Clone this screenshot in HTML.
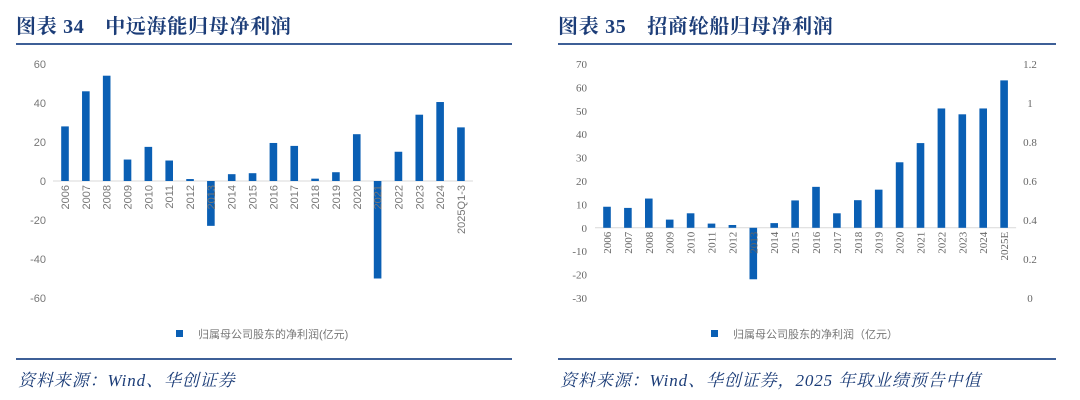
<!DOCTYPE html>
<html><head><meta charset="utf-8"><style>
body{margin:0;background:#fff;}
svg{display:block;font-family:"Liberation Sans","Noto Sans CJK SC",sans-serif;}
.t{font-family:"Liberation Serif","Noto Serif CJK SC",serif;font-weight:bold;fill:#1c3d78;font-size:20px;letter-spacing:0.7px;}
.f{font-family:"Liberation Serif","Noto Serif CJK SC",serif;font-style:italic;fill:#1c3d78;font-size:17px;letter-spacing:0.9px;}
.ax{fill:#777;font-size:11px;}
.axs{fill:#666;font-size:11px;font-family:"Liberation Serif",serif;}
</style></head><body>
<svg id="s" width="1080" height="400">
<text class="t" x="16" y="33">图表 34　中远海能归母净利润</text>
<rect x="16" y="43" width="496" height="2" fill="#3d5f97"/>
<text class="t" x="558" y="33">图表 35　招商轮船归母净利润</text>
<rect x="558" y="43" width="498" height="2" fill="#3d5f97"/>
<g id="L"></g>
<g id="R"></g>
<rect x="176" y="330" width="7" height="7" fill="#0a5fb4"/>
<text x="198" y="338" class="ax" font-size="12">归属母公司股东的净利润(亿元)</text>
<rect x="711" y="330" width="7" height="7" fill="#0a5fb4"/>
<text x="733" y="338" class="ax" font-size="12">归属母公司股东的净利润（亿元）</text>
<rect x="16" y="358" width="496" height="2" fill="#3d5f97"/>
<rect x="558" y="358" width="498" height="2" fill="#3d5f97"/>
<text class="f" x="18" y="386">资料来源：Wind、华创证券</text>
<text class="f" x="560" y="386">资料来源：Wind、华创证券，2025 年取业绩预告中值</text>
</svg>
<script>
const leftCats=["2006","2007","2008","2009","2010","2011","2012","2013","2014","2015","2016","2017","2018","2019","2020","2021","2022","2023","2024","2025Q1-3"];
const leftVals=[28,46,54,11,17.5,10.5,1,-23,3.5,4,19.5,18,1.2,4.5,24,-50,15,34,40.5,27.5];
const leftTicks=[60,40,20,0,-20,-40,-60];
const rightCats=["2006","2007","2008","2009","2010","2011","2012","2013","2014","2015","2016","2017","2018","2019","2020","2021","2022","2023","2024","2025E"];
const rightVals=[9,8.5,12.5,3.5,6.2,1.8,1.2,-22,2,11.7,17.5,6.2,11.8,16.3,28,36.2,51,48.5,51,63];
const rightTicks=[70,60,50,40,30,20,10,0,-10,-20,-30];
const rightTicks2=["1.2","1","0.8","0.6","0.4","0.2","0"];
const NS="http://www.w3.org/2000/svg";
function mk(g,tag,at){const e=document.createElementNS(NS,tag);for(const k in at)e.setAttribute(k,at[k]);g.appendChild(e);return e;}
function draw(gid,cats,vals,ticks,o){
  const g=document.getElementById(gid);
  const y=v=>o.y0-(v-o.min)/(o.max-o.min)*(o.y0-o.y1);
  const x=i=>o.x0+i*o.step;
  ticks.forEach(t=>{const e=mk(g,'text',{x:o.tx,y:y(t)+4,'text-anchor':'end','class':o.cls});e.textContent=t;
    
    });
  const ax=mk(g,'line',{x1:x(0)-12,x2:x(cats.length-1)+12,y1:y(0),y2:y(0),stroke:'#d9d9d9','stroke-width':1});
  
  
  vals.forEach((v,i)=>{const r=mk(g,'rect',{x:x(i)-3.8,y:Math.min(y(v),y(0)),width:7.6,height:Math.abs(y(v)-y(0)),fill:'#0a5fb4'});
    
    });
  cats.forEach((c,i)=>{const e=mk(g,'text',{transform:`translate(${x(i)+4},${y(0)+4}) rotate(-90)`,'text-anchor':'end','class':o.cls});e.textContent=c;
    
    });
}
draw('L',leftCats,leftVals,leftTicks,{x0:65,step:20.84,y0:298,y1:64,min:-60,max:60,tx:46,cls:'ax'});
draw('R',rightCats,rightVals,rightTicks,{x0:607,step:20.9,y0:298,y1:64,min:-30,max:70,tx:587,cls:'axs'});
const gR=document.getElementById('R');
rightTicks2.forEach((t,i)=>{const e=mk(gR,'text',{x:1030,y:64+i*39+4,'text-anchor':'middle','class':'axs'});e.textContent=t;
  
  });
</script>
</body></html>
